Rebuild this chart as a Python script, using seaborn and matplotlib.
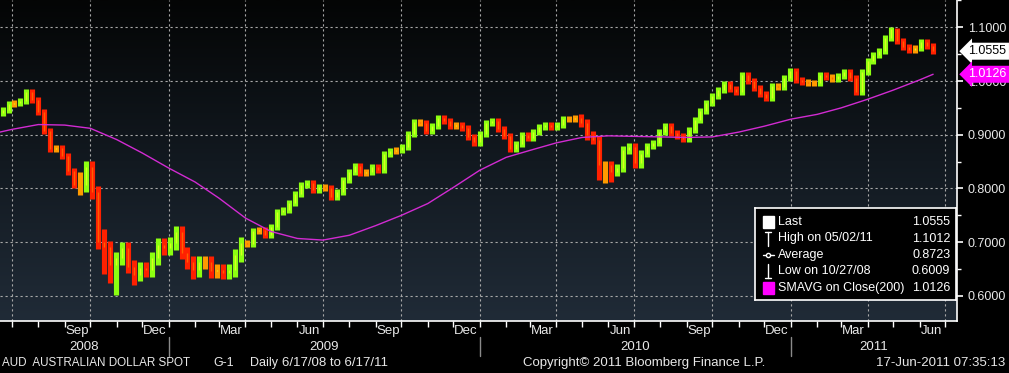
import matplotlib
matplotlib.use("Agg")
import matplotlib.pyplot as plt
import matplotlib.dates as mdates
import matplotlib.transforms as mtransforms
from matplotlib.patches import Rectangle
from matplotlib.colors import LinearSegmentedColormap
import numpy as np
import pandas as pd
import seaborn as sns

# ---------------- data (weekly) ---------------- #
week_end = pd.date_range("2008-06-20", periods=157, freq="W-FRI")
first_open = 0.940

wk_close = [0.946, 0.957, 0.959, 0.963, 0.980, 0.965, 0.942, 0.907, 0.873, 0.875,
            0.860, 0.832, 0.806, 0.806, 0.840, 0.793, 0.700, 0.691, 0.657, 0.670,
            0.689, 0.654, 0.639, 0.652, 0.648, 0.670, 0.695, 0.689, 0.698, 0.719,
            0.680, 0.663, 0.648, 0.663, 0.663, 0.646, 0.648, 0.643, 0.648, 0.676,
            0.698, 0.697, 0.721, 0.723, 0.713, 0.728, 0.756, 0.760, 0.773, 0.790,
            0.806, 0.810, 0.797, 0.803, 0.801, 0.784, 0.793, 0.816, 0.831, 0.842,
            0.829, 0.831, 0.840, 0.834, 0.864, 0.870, 0.872, 0.877, 0.901, 0.924,
            0.922, 0.907, 0.916, 0.931, 0.926, 0.916, 0.918, 0.913, 0.896, 0.886,
            0.901, 0.922, 0.926, 0.911, 0.898, 0.873, 0.883, 0.899, 0.894, 0.905,
            0.914, 0.918, 0.914, 0.918, 0.929, 0.929, 0.931, 0.922, 0.899, 0.890,
            0.844, 0.844, 0.831, 0.838, 0.872, 0.877, 0.847, 0.864, 0.879, 0.885,
            0.905, 0.916, 0.903, 0.898, 0.892, 0.909, 0.927, 0.944, 0.959, 0.972,
            0.983, 0.994, 0.985, 0.980, 1.011, 1.000, 0.987, 0.976, 0.968, 0.991,
            0.989, 1.006, 1.019, 1.002, 0.998, 0.996, 0.996, 1.011, 1.007, 1.004,
            1.009, 1.017, 1.006, 0.980, 1.017, 1.037, 1.048, 1.056, 1.080, 1.097,
            1.075, 1.063, 1.058, 1.061, 1.073, 1.065, 1.0555]

wk_high = [0.952, 0.963, 0.965, 0.969, 0.986, 0.986, 0.971, 0.948, 0.913, 0.881,
           0.881, 0.866, 0.838, 0.830, 0.852, 0.852, 0.805, 0.725, 0.703, 0.682,
           0.701, 0.701, 0.666, 0.664, 0.664, 0.682, 0.707, 0.707, 0.710, 0.731,
           0.731, 0.692, 0.675, 0.675, 0.675, 0.675, 0.660, 0.660, 0.660, 0.688,
           0.710, 0.704, 0.727, 0.729, 0.729, 0.734, 0.762, 0.766, 0.779, 0.796,
           0.812, 0.816, 0.816, 0.809, 0.809, 0.807, 0.799, 0.822, 0.837, 0.848,
           0.848, 0.837, 0.846, 0.846, 0.870, 0.876, 0.878, 0.883, 0.907, 0.930,
           0.930, 0.928, 0.922, 0.937, 0.937, 0.932, 0.924, 0.924, 0.919, 0.902,
           0.907, 0.928, 0.932, 0.932, 0.917, 0.904, 0.889, 0.905, 0.905, 0.911,
           0.920, 0.924, 0.924, 0.924, 0.935, 0.935, 0.937, 0.939, 0.930, 0.907,
           0.898, 0.852, 0.852, 0.846, 0.880, 0.885, 0.885, 0.872, 0.885, 0.891,
           0.911, 0.922, 0.922, 0.909, 0.904, 0.915, 0.933, 0.950, 0.965, 0.978,
           0.989, 1.000, 1.000, 0.991, 1.017, 1.017, 1.006, 0.993, 0.982, 0.997,
           0.997, 1.012, 1.025, 1.025, 1.008, 1.004, 1.002, 1.017, 1.017, 1.013,
           1.015, 1.023, 1.023, 1.012, 1.023, 1.043, 1.054, 1.062, 1.086, 1.1012,
           1.099, 1.081, 1.069, 1.067, 1.079, 1.079, 1.071]

wk_low = [0.934, 0.940, 0.951, 0.953, 0.957, 0.959, 0.936, 0.901, 0.867, 0.867,
          0.854, 0.826, 0.800, 0.788, 0.794, 0.781, 0.688, 0.640, 0.625, 0.601,
          0.658, 0.642, 0.620, 0.627, 0.636, 0.636, 0.658, 0.677, 0.677, 0.686,
          0.668, 0.651, 0.632, 0.636, 0.651, 0.634, 0.634, 0.631, 0.631, 0.636,
          0.664, 0.691, 0.691, 0.715, 0.707, 0.707, 0.722, 0.750, 0.754, 0.767,
          0.784, 0.800, 0.791, 0.791, 0.795, 0.778, 0.778, 0.787, 0.810, 0.825,
          0.823, 0.823, 0.825, 0.828, 0.828, 0.858, 0.864, 0.866, 0.871, 0.895,
          0.916, 0.901, 0.901, 0.910, 0.920, 0.910, 0.910, 0.907, 0.890, 0.880,
          0.880, 0.895, 0.916, 0.905, 0.892, 0.867, 0.867, 0.877, 0.888, 0.888,
          0.899, 0.908, 0.908, 0.908, 0.912, 0.923, 0.923, 0.914, 0.891, 0.882,
          0.815, 0.810, 0.812, 0.823, 0.830, 0.864, 0.839, 0.839, 0.858, 0.873,
          0.879, 0.899, 0.897, 0.892, 0.886, 0.886, 0.903, 0.921, 0.938, 0.953,
          0.966, 0.977, 0.979, 0.974, 0.974, 0.994, 0.981, 0.970, 0.962, 0.962,
          0.983, 0.983, 1.000, 0.996, 0.992, 0.990, 0.990, 0.990, 1.001, 0.998,
          0.998, 1.003, 1.000, 0.974, 0.974, 1.011, 1.031, 1.042, 1.050, 1.074,
          1.069, 1.057, 1.052, 1.052, 1.055, 1.059, 1.050]

# 200-day simple moving average, read at month starts
sma_dates = ["2008-06-17", "2008-07-01", "2008-08-01", "2008-09-01", "2008-10-01",
             "2008-11-01", "2008-12-01", "2009-01-01", "2009-02-01", "2009-03-01",
             "2009-04-01", "2009-05-01", "2009-06-01", "2009-07-01", "2009-08-01",
             "2009-09-01", "2009-10-01", "2009-11-01", "2009-12-01", "2010-01-01",
             "2010-02-01", "2010-03-01", "2010-04-01", "2010-05-01", "2010-06-01",
             "2010-07-01", "2010-08-01", "2010-09-01", "2010-10-01", "2010-11-01",
             "2010-12-01", "2011-01-01", "2011-02-01", "2011-03-01", "2011-04-01",
             "2011-05-01", "2011-06-01", "2011-06-17"]
sma_vals = [0.905, 0.910, 0.919, 0.918, 0.912, 0.891, 0.866, 0.838, 0.812, 0.782,
            0.745, 0.720, 0.707, 0.704, 0.713, 0.731, 0.750, 0.772, 0.802, 0.834,
            0.858, 0.871, 0.885, 0.895, 0.898, 0.897, 0.896, 0.895, 0.896, 0.905,
            0.916, 0.929, 0.938, 0.950, 0.966, 0.983, 1.002, 1.0126]

y_ticks = [0.6, 0.7, 0.8, 0.9, 1.0, 1.1]
month_labels = ["Sep", "Dec", "Mar", "Jun"]
years = [2008, 2009, 2010, 2011]

legend_labels = ["Last", "High on 05/02/11", "Average", "Low on 10/27/08", "SMAVG on Close(200)"]
legend_values = ["1.0555", "1.1012", "0.8723", "0.6009", "1.0126"]
last_value, sma_last = 1.0555, 1.0126

x_start, x_end = pd.Timestamp("2008-06-17"), pd.Timestamp("2011-07-15")

# ---------------------------------------------------------------------------- #
sns.set_style("dark")
plt.rcParams['font.family'] = ['Liberation Sans', 'DejaVu Sans']
txt = '#e8e8e8'

W, H = 1009, 373
fig = plt.figure(figsize=(W / 100, H / 100), dpi=100, facecolor='black')
ax = fig.add_axes([0, 1 - 321 / H, 957 / W, 321 / H])
ax.set_xlim(x_start, x_end)
ax.set_ylim(0.5534, 1.1508)

# background gradient
grad = np.linspace(0, 1, 256).reshape(-1, 1)
bg_cmap = LinearSegmentedColormap.from_list("bg", ["#202b37", "#121920", "#040505"])
ax.imshow(grad, cmap=bg_cmap, aspect='auto', extent=[0, 1, 1, 0],
          transform=ax.transAxes, zorder=0)

# grid
grid_kw = dict(color='#a8a8a8', lw=0.8, ls=(0, (2, 2.5)), zorder=1)
for v in y_ticks:
    ax.axhline(v, **grid_kw)
quarters = pd.date_range("2008-07-01", "2011-07-01", freq="QS-JAN")
for q in quarters:
    ax.axvline(q, **grid_kw)

# price bars
df = pd.DataFrame({'date': week_end, 'close': wk_close, 'high': wk_high, 'low': wk_low})
df['open'] = [first_open] + wk_close[:-1]
chg = df['close'] - df['open']
colors = np.where(chg > 0.004, '#8cff10', np.where(chg < -0.004, '#ff2000', '#ff9a00'))
ax.vlines(df['date'], df['low'], df['high'], colors=colors, lw=3.7, zorder=3)
# open/close body in a second tone, like the mixed daily bars
ax.vlines(df['date'], df[['open', 'close']].min(axis=1), df[['open', 'close']].max(axis=1),
          colors=np.where(chg > 0, '#d8ff20', '#ff6000'), lw=1.0, zorder=4)

# SMA line
sma = pd.DataFrame({'date': pd.to_datetime(sma_dates), 'sma': sma_vals})
sns.lineplot(data=sma, x='date', y='sma', color='#d22bd2', lw=1.0, ax=ax, zorder=5)

# axes styling
for s in ['top', 'left']:
    ax.spines[s].set_visible(False)
for s in ['bottom', 'right']:
    ax.spines[s].set_color('white')
    ax.spines[s].set_linewidth(1.2)
ax.set_xlabel('')
ax.set_ylabel('')

ax.yaxis.tick_right()
ax.set_yticks(y_ticks)
ax.set_yticklabels([f"{v:.4f}" for v in y_ticks])
ax.yaxis.set_minor_locator(matplotlib.ticker.MultipleLocator(0.05))
ax.tick_params(axis='y', which='major', colors='white', labelcolor=txt,
               length=4.5, width=1.2, pad=3.2, labelsize=9, right=True, left=False)
ax.tick_params(axis='y', which='minor', colors='white', length=3, width=1, right=True, left=False)

label_dates = pd.to_datetime(["2008-09-15", "2008-12-15", "2009-03-15", "2009-06-15",
                              "2009-09-15", "2009-12-15", "2010-03-15", "2010-06-15",
                              "2010-09-15", "2010-12-15", "2011-03-15", "2011-06-15"])
ax.set_xticks(label_dates)
ax.set_xticklabels([month_labels[i % 4] for i in range(len(label_dates))])
ax.xaxis.set_minor_locator(mdates.MonthLocator())
ax.tick_params(axis='x', which='major', length=0, pad=3, labelcolor=txt, labelsize=9.5)
ax.tick_params(axis='x', which='minor', length=4, width=1, color='white', bottom=True)

# year row
yr_trans = mtransforms.blended_transform_factory(ax.transData, fig.transFigure)
bounds = [x_start] + [pd.Timestamp(f"{y}-01-01") for y in years[1:]] + [x_end]
for i, y in enumerate(years):
    mid = bounds[i] + (bounds[i + 1] - bounds[i]) / 2
    fig.text(mdates.date2num(mid), 1 - 347 / H, str(y), transform=yr_trans,
             ha='center', va='center', color=txt, fontsize=9.5)
for b in bounds[1:-1]:
    fig.add_artist(plt.Line2D([mdates.date2num(b)] * 2, [1 - 337 / H, 1 - 356 / H],
                              transform=yr_trans, color='#8a8a8a', lw=1))

# value tags on the right axis
tag_trans = mtransforms.blended_transform_factory(ax.transAxes, ax.transData)
ax.text(1.012, last_value, f"{last_value:.4f}", transform=tag_trans, ha='left', va='center',
        fontsize=9, color='black', clip_on=False, zorder=20,
        bbox=dict(boxstyle='larrow,pad=0.2', fc='white', ec='none'))
ax.text(1.012, sma_last, f"{sma_last:.4f}", transform=tag_trans, ha='left', va='center',
        fontsize=9, color='white', clip_on=False, zorder=20,
        bbox=dict(boxstyle='larrow,pad=0.2', fc='#ff00ff', ec='none'))

# legend box
lg = fig.add_axes([755 / W, 1 - 300 / H, 201 / W, 92 / H])
lg.set_facecolor('black')
lg.set_xlim(0, 1)
lg.set_ylim(0, 1)
lg.set_xticks([])
lg.set_yticks([])
for s in lg.spines.values():
    s.set_color('white')
    s.set_linewidth(1.2)
rows = [(300 - y) / 92 for y in [222, 238.5, 255, 271.5, 288]]
for lab, val, ry in zip(legend_labels, legend_values, rows):
    lg.text(0.114, ry, lab, color='white', fontsize=9, va='center', ha='left')
    lg.text(0.972, ry, val, color='white', fontsize=9, va='center', ha='right')
lg.add_patch(Rectangle((0.04, rows[0] - 0.07), 0.055, 0.14, color='white'))
lg.add_patch(Rectangle((0.04, rows[4] - 0.07), 0.055, 0.14, color='#ff00ff'))
lg.plot([0.067, 0.067], [rows[1] - 0.08, rows[1] + 0.07], color='white', lw=1)
lg.plot([0.052, 0.082], [rows[1] + 0.07] * 2, color='white', lw=1)
lg.plot([0.04, 0.095], [rows[2]] * 2, color='white', lw=1)
lg.plot([0.067], [rows[2]], marker='o', ms=3, mfc='black', mec='white', mew=1)
lg.plot([0.067, 0.067], [rows[3] - 0.07, rows[3] + 0.08], color='white', lw=1)
lg.plot([0.052, 0.082], [rows[3] - 0.07] * 2, color='white', lw=1)

# footer
foot_y = 1 - 363 / H
fig.text(2 / W, foot_y, "AUD  AUSTRALIAN DOLLAR SPOT", color=txt, fontsize=8.4, va='center')
fig.text(213 / W, foot_y, "G-1", color=txt, fontsize=9, va='center')
fig.text(250 / W, foot_y, "Daily", color=txt, fontsize=9, va='center')
fig.text(282 / W, foot_y, "6/17/08 to 6/17/11", color=txt, fontsize=9.5, va='center')
fig.text(523 / W, foot_y, "Copyright\u00a9 2011 Bloomberg Finance L.P.", color=txt,
         fontsize=9.5, va='center')
fig.text(1005 / W, foot_y, "17-Jun-2011 07:35:13", color=txt, fontsize=9.5,
         va='center', ha='right')

fig.savefig("out.png", dpi=100, facecolor='black')
